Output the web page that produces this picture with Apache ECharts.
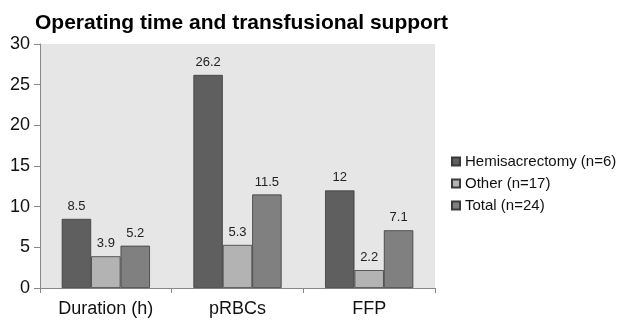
<!DOCTYPE html>
<html>
<head>
<meta charset="utf-8">
<script src="https://cdn.jsdelivr.net/npm/echarts@6/dist/echarts.min.js"></script>
<style>
  html, body { margin: 0; padding: 0; background: #fff; }
  #chart { width: 620px; height: 320px; }
</style>
</head>
<body>
<div id="chart"></div>
<script>
// Categories and group values
const categories = ['Duration (h)', 'pRBCs', 'FFP'];
const hemisacrectomy = [8.5, 26.2, 12];
const other = [3.9, 5.3, 2.2];
const total = [5.2, 11.5, 7.1];
const seriesNames = ['Hemisacrectomy (n=6)', 'Other (n=17)', 'Total (n=24)'];
const seriesColors = ['#5f5f5f', '#b3b3b3', '#808080'];

const font = 'Liberation Sans, Arial, sans-serif';

function barSeries(name, data, color) {
  return {
    name: name,
    type: 'bar',
    data: data,
    barGap: '0%',
    barCategoryGap: '33%',
    itemStyle: { color: color, borderColor: '#3a3a3a', borderWidth: 0.8 },
    label: {
      show: true,
      position: 'top',
      distance: 6,
      fontFamily: font,
      fontSize: 13,
      color: '#222'
    }
  };
}

const chart = echarts.init(document.getElementById('chart'), null, { renderer: 'canvas' });
chart.setOption({
  animation: false,
  backgroundColor: '#ffffff',
  title: {
    text: 'Operating time and transfusional support',
    left: 30,
    top: 8,
    textStyle: { fontFamily: font, fontSize: 21, fontWeight: 'bold', color: '#000' }
  },
  legend: {
    orient: 'vertical',
    left: 446,
    top: 149,
    itemWidth: 8,
    itemHeight: 8,
    itemGap: 7,
    icon: 'rect',
    textStyle: { fontFamily: font, fontSize: 15, color: '#111' },
    data: seriesNames
  },
  grid: {
    left: 40,
    right: 185,
    top: 44,
    bottom: 32,
    show: true,
    backgroundColor: '#e6e6e6',
    borderWidth: 0
  },
  xAxis: {
    type: 'category',
    data: categories,
    axisLine: { lineStyle: { color: '#888', width: 1 } },
    axisTick: { show: true, length: 5, lineStyle: { color: '#888' } },
    axisLabel: { fontFamily: font, fontSize: 18, color: '#111', margin: 12 }
  },
  yAxis: {
    type: 'value',
    min: 0,
    max: 30,
    interval: 5,
    splitLine: { show: false },
    axisLine: { show: true, lineStyle: { color: '#888', width: 1 } },
    axisTick: { show: true, length: 6, lineStyle: { color: '#888' } },
    axisLabel: { fontFamily: font, fontSize: 18, color: '#111', margin: 10 }
  },
  series: [
    barSeries(seriesNames[0], hemisacrectomy, seriesColors[0]),
    barSeries(seriesNames[1], other, seriesColors[1]),
    barSeries(seriesNames[2], total, seriesColors[2])
  ]
});
</script>
</body>
</html>
